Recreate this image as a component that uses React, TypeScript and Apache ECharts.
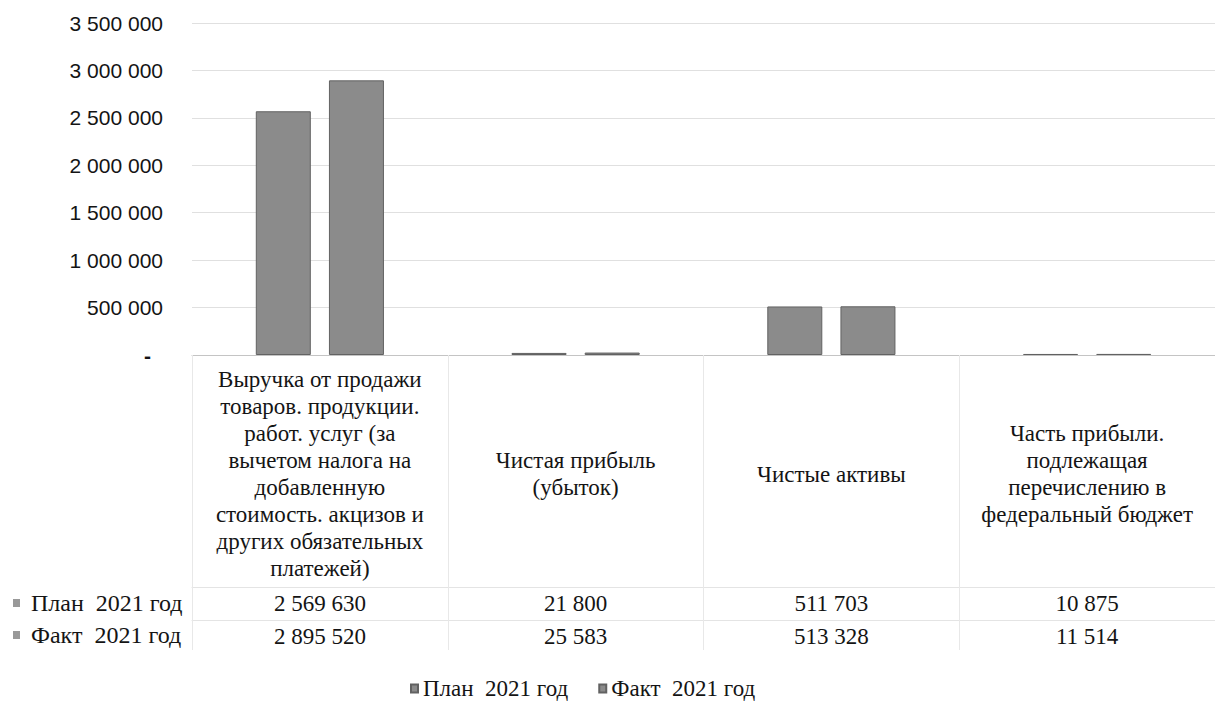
import React, { useEffect, useRef } from "react";
import * as echarts from "echarts";

const categories = [
  "Выручка от продажи\nтоваров. продукции.\nработ. услуг (за\nвычетом налога на\nдобавленную\nстоимость. акцизов и\nдругих обязательных\nплатежей)",
  "Чистая прибыль\n(убыток)",
  "Чистые активы",
  "Часть прибыли.\nподлежащая\nперечислению в\nфедеральный бюджет",
];
const seriesNames = ["План  2021 год", "Факт  2021 год"];
const planValues = [2569630, 21800, 511703, 10875];
const factValues = [2895520, 25583, 513328, 11514];
const yMax = 3500000;
const yInterval = 500000;

const fmt = (v: number) => String(Math.round(v)).replace(/\B(?=(\d{3})+(?!\d))/g, " ");

const SERIF = "Liberation Serif";
const SANS = "Liberation Sans";
const TXT = "#141414";
const BAR = "#8b8b8b";
const BAR_BORDER = "#626262";

export default function App() {
  const ref = useRef<HTMLDivElement>(null);
  useEffect(() => {
    if (!ref.current) return;
    const chart = echarts.init(ref.current, null, { renderer: "svg" });
    const option: any = {
      animation: false,
      backgroundColor: "#ffffff",
      grid: { left: 192, top: 23, width: 1030, height: 332 },
      legend: {
        data: seriesNames,
        left: 410,
        top: 677,
        padding: 0,
        icon: "rect",
        itemWidth: 7,
        itemHeight: 8,
        itemGap: 30,
        textStyle: { fontFamily: SERIF, fontSize: 23, color: TXT, lineHeight: 22 },
      },
      xAxis: [
        {
          type: "category",
          data: categories,
          axisLine: { show: true, lineStyle: { color: "#c4c4c4", width: 1 } },
          axisTick: { show: true, length: 295, lineStyle: { color: "#e8e8e8", width: 1 } },
          axisLabel: {
            interval: 0,
            margin: 119,
            verticalAlign: "middle",
            fontFamily: SERIF,
            fontSize: 23,
            lineHeight: 27,
            color: TXT,
          },
          splitLine: { show: false },
        },
        {
          type: "category",
          data: categories,
          position: "bottom",
          offset: 232,
          axisLine: { show: true, lineStyle: { color: "#e4e4e4", width: 1 } },
          axisTick: { show: false },
          axisLabel: {
            interval: 0,
            margin: 16,
            verticalAlign: "middle",
            fontFamily: SERIF,
            fontSize: 23,
            color: TXT,
            formatter: (_v: string, i: number) => fmt(planValues[i]),
          },
        },
        {
          type: "category",
          data: categories,
          position: "bottom",
          offset: 265,
          axisLine: { show: true, lineStyle: { color: "#e4e4e4", width: 1 } },
          axisTick: { show: false },
          axisLabel: {
            interval: 0,
            margin: 16,
            verticalAlign: "middle",
            fontFamily: SERIF,
            fontSize: 23,
            color: TXT,
            formatter: (_v: string, i: number) => fmt(factValues[i]),
          },
        },
      ],
      yAxis: {
        type: "value",
        min: 0,
        max: yMax,
        interval: yInterval,
        axisLine: { show: false },
        axisTick: { show: false },
        splitLine: { show: true, lineStyle: { color: "#e0e0e0", width: 1 } },
        axisLabel: {
          margin: 29,
          fontFamily: SANS,
          fontSize: 21,
          color: TXT,
          formatter: (v: number) => (v === 0 ? "{z|-}" : fmt(v)),
          rich: { z: { fontFamily: SANS, fontSize: 21, color: TXT, padding: [0, 12, 0, 0], fontWeight: "bold" } },
        },
      },
      series: [
        {
          name: seriesNames[0],
          type: "bar",
          data: planValues,
          barWidth: 55,
          barGap: "33%",
          itemStyle: { color: BAR, borderColor: BAR_BORDER, borderWidth: 1 },
        },
        {
          name: seriesNames[1],
          type: "bar",
          data: factValues,
          barWidth: 55,
          barGap: "33%",
          itemStyle: { color: BAR, borderColor: BAR_BORDER, borderWidth: 1 },
        },
      ],
      graphic: [
        {
          type: "group",
          left: 13,
          top: 591,
          children: [
            { type: "rect", shape: { x: 0, y: 8, width: 7, height: 8 }, style: { fill: "#999999" } },
            { type: "text", x: 18, y: 0, style: { text: seriesNames[0], fontFamily: SERIF, fontSize: 24, fill: TXT } },
          ],
        },
        {
          type: "group",
          left: 13,
          top: 623,
          children: [
            { type: "rect", shape: { x: 0, y: 8, width: 7, height: 8 }, style: { fill: "#999999" } },
            { type: "text", x: 18, y: 0, style: { text: seriesNames[1], fontFamily: SERIF, fontSize: 24, fill: TXT } },
          ],
        },
      ],
    };
    chart.setOption(option);
    return () => chart.dispose();
  }, []);
  return (
    <div
      ref={ref}
      style={{ position: "absolute", left: 0, top: 0, width: 1215, height: 702, background: "#fff" }}
    />
  );
}
